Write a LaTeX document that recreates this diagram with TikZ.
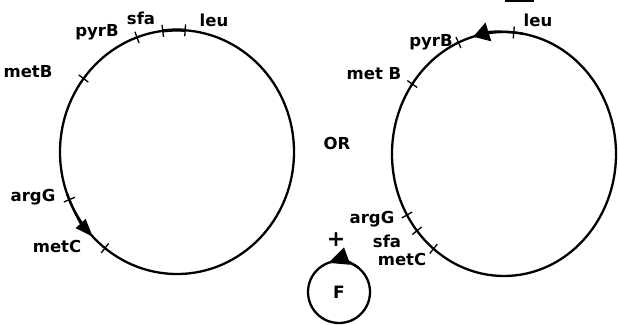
\documentclass[tikz,border=0pt]{standalone}
\usepackage{fontspec}
\setmainfont{DejaVu Sans}
\usetikzlibrary{arrows.meta}
\begin{document}
\begin{tikzpicture}[x=1pt, y=1pt,
  chrom/.style={line width=2.3pt},
  genetick/.style={line width=1.3pt},
  gene/.style={font=\fontsize{16.5}{18}\selectfont\bfseries, anchor=base, inner sep=0pt},
  dir/.style={-{Triangle[length=18pt,width=13pt]}, line width=2.3pt}]
\useasboundingbox (0,0) rectangle (618,324);
\coordinate (L) at (177,172);
\coordinate (R) at (504,170);
\draw[chrom] (L) ellipse [x radius=117, y radius=122];
\draw[chrom] (R) ellipse [x radius=112, y radius=122];
\draw[line width=3.2pt] (L) ++(86:117 and 122) arc[start angle=86, end angle=97, x radius=117, y radius=122];
\draw[dir] (L) ++(200:117 and 122) arc[start angle=200, end angle=224, x radius=117, y radius=122];
\draw[dir, -{Triangle[length=16pt,width=19pt]}] (R) ++(80:112 and 122) arc[start angle=80, end angle=106, x radius=112, y radius=122];
\draw[genetick] (L) ++(110:111 and 116) -- ++(110:12);
\draw[genetick] (L) ++(97:111 and 116) -- ++(97:12);
\draw[genetick] (L) ++(86:111 and 116) -- ++(86:12);
\draw[genetick] (L) ++(143:111 and 116) -- ++(143:12);
\draw[genetick] (L) ++(203:111 and 116) -- ++(203:12);
\draw[genetick] (L) ++(232:111 and 116) -- ++(232:12);
\draw[genetick] (R) ++(85:106 and 116) -- ++(85:12);
\draw[genetick] (R) ++(114:106 and 116) -- ++(114:12);
\draw[genetick] (R) ++(145:106 and 116) -- ++(145:12);
\draw[genetick] (R) ++(210:106 and 116) -- ++(210:12);
\draw[genetick] (R) ++(219:106 and 116) -- ++(219:12);
\draw[genetick] (R) ++(231:106 and 116) -- ++(231:12);
\node[gene] (pyrBL) at (97,287) {pyrB};
\node[gene] (sfaL) at (141,299) {sfa};
\node[gene] (leuL) at (214,297) {leu};
\node[gene] (metBL) at (28,246) {metB};
\node[gene] (argGL) at (33,122) {argG};
\node[gene] (metCL) at (57,71) {metC};
\node[gene] (leuR) at (538,297) {leu};
\node[gene] (pyrBR) at (431,277) {pyrB};
\node[gene] (metBR) at (374,244) {met B};
\node[gene] (argGR) at (372,100) {argG};
\node[gene] (sfaR) at (387,77) {sfa};
\node[gene] (metCR) at (402,59) {metC};
\node[gene] (OR) at (337,174) {OR};
\node[font=\fontsize{22}{24}\selectfont\bfseries, inner sep=0pt] (plus) at (336,84) {+};
\node[chrom, draw, circle, minimum size=62pt, inner sep=0pt, font=\fontsize{17}{18}\selectfont\bfseries] (F) at (339,32) {F};
\draw[chrom, -{Triangle[length=20pt,width=18pt]}] (F.center) ++(50:31) arc[start angle=50, end angle=110, radius=31];
\draw[line width=3pt] (505,323) -- (534,323);
\end{tikzpicture}
\end{document}
